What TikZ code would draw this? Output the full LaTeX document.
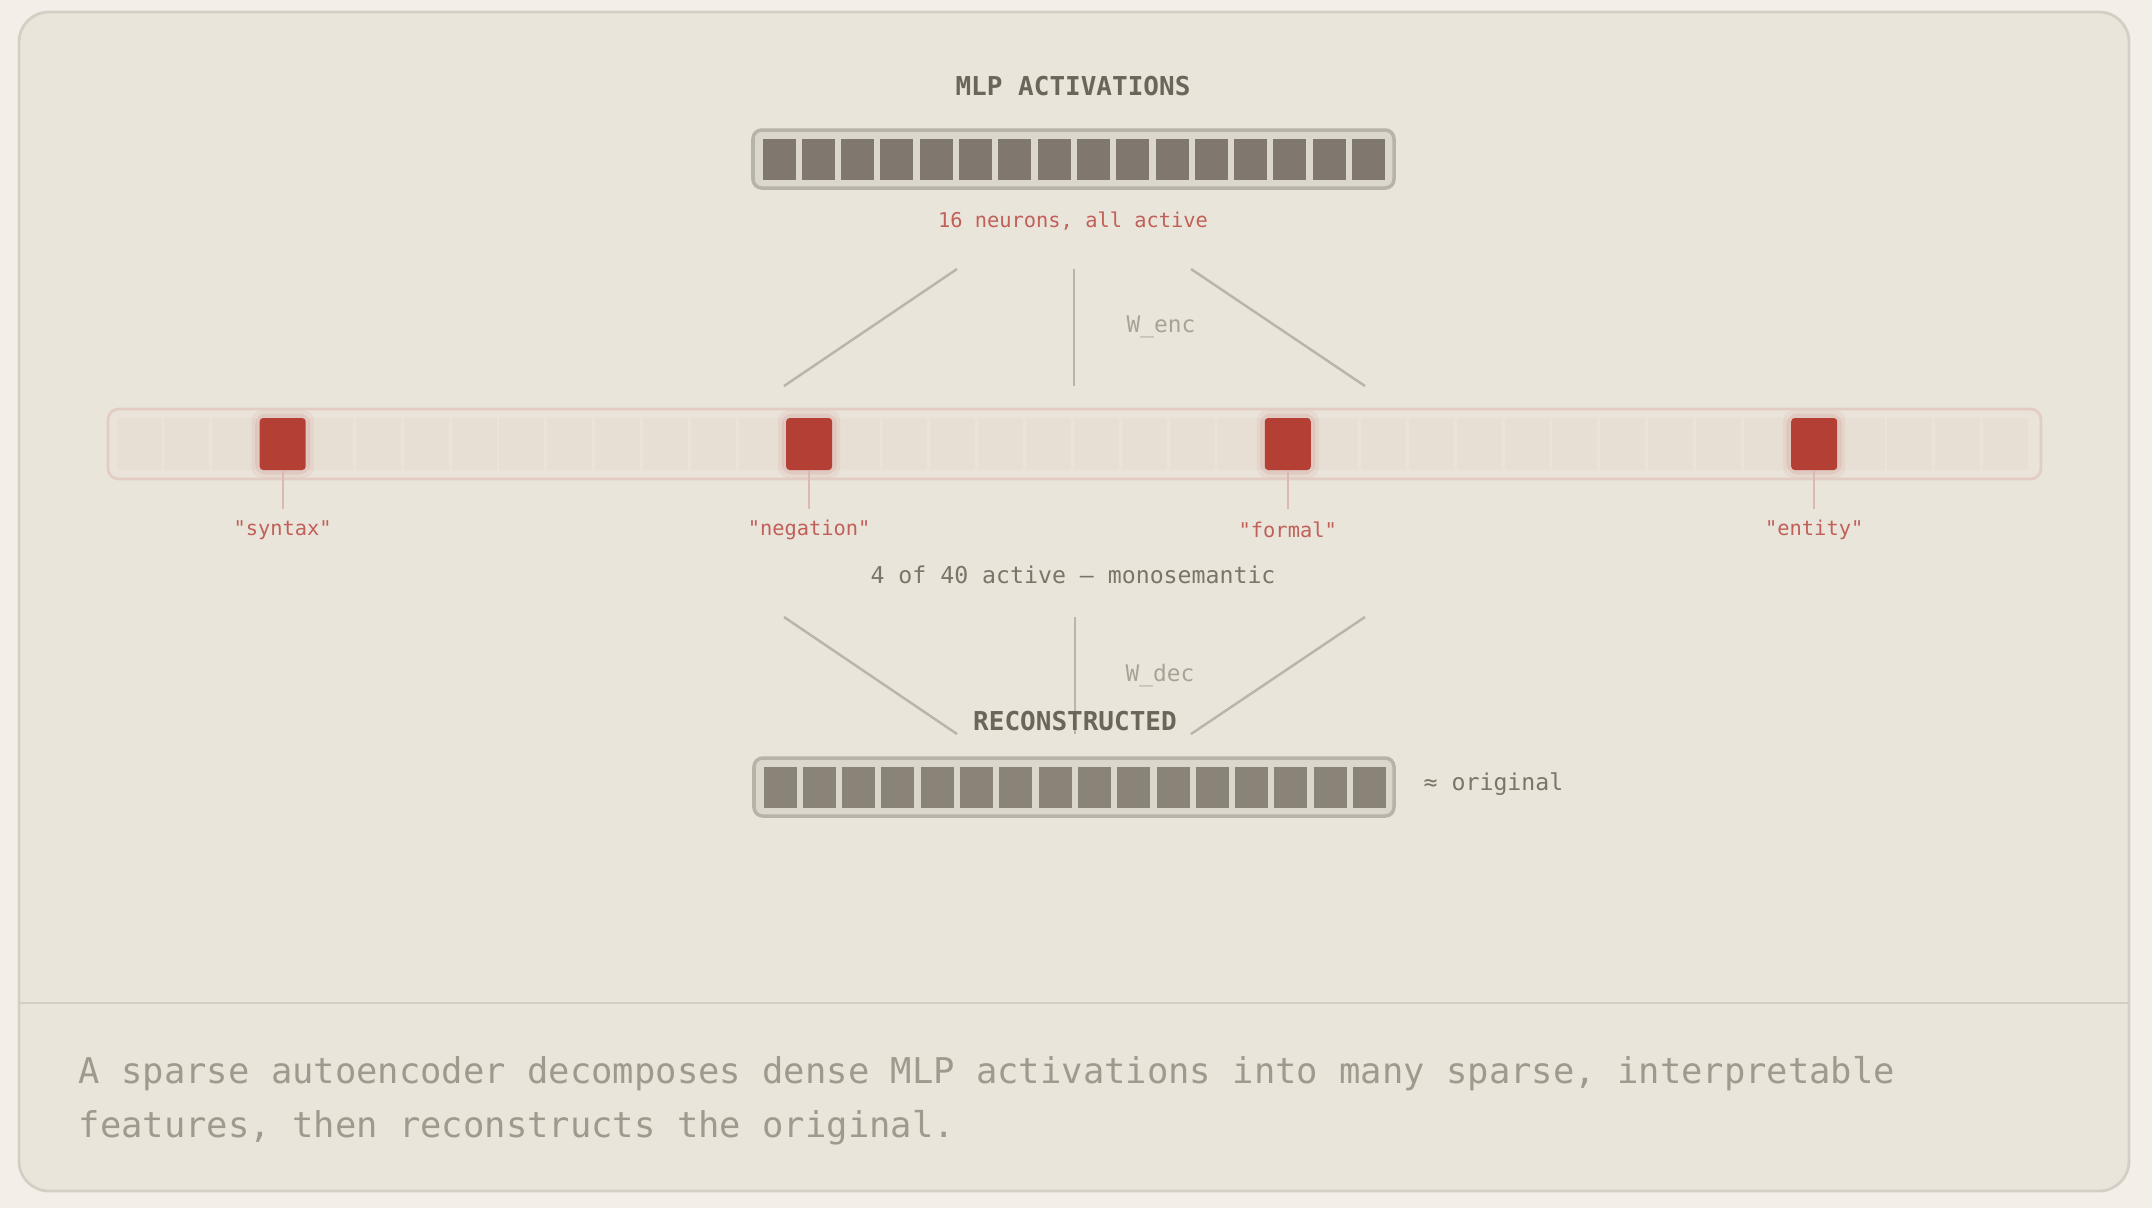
\documentclass[tikz,border=0pt]{standalone}
\usepackage{fontspec}
\setmonofont{DejaVu Sans Mono}
\renewcommand{\familydefault}{\ttdefault}
\usetikzlibrary{calc}
\definecolor{PageBg}{RGB}{243,239,232}
\definecolor{PanelBg}{RGB}{233,229,219}
\definecolor{PanelLine}{RGB}{212,207,196}
\definecolor{InkDark}{RGB}{107,101,90}
\definecolor{BarFill}{RGB}{220,215,204}
\definecolor{BarLine}{RGB}{184,179,168}
\definecolor{NeuronA}{RGB}{128,120,111}
\definecolor{NeuronB}{RGB}{138,131,120}
\definecolor{SoftRed}{RGB}{192,96,88}
\definecolor{FeatRed}{RGB}{180,63,53}
\definecolor{FeatBg}{RGB}{234,227,218}
\definecolor{FeatCell}{RGB}{231,222,212}
\definecolor{FeatLine}{RGB}{227,205,194}
\definecolor{TickRed}{RGB}{221,184,176}
\definecolor{Wire}{RGB}{186,181,170}
\definecolor{WireText}{RGB}{169,163,151}
\definecolor{MidText}{RGB}{123,116,104}
\definecolor{CapText}{RGB}{160,154,142}

\begin{document}
\begin{tikzpicture}[y=-1cm,
  wire/.style={Wire,line width=.7pt},
  head/.style={InkDark,font=\bfseries\fontsize{7.4}{9}\selectfont},
  small/.style={font=\fontsize{5.8}{7}\selectfont},
  featcell/.style={fill=FeatRed,minimum width=.46cm,minimum height=.52cm,inner sep=0pt,rounded corners=1pt},
  glowbox/.style={fill=FeatRed,inner sep=0pt,rounded corners=3pt}]
  \useasboundingbox (0,0) rectangle (21.52,12.08);
  \fill[PageBg] (0,0) rectangle (21.52,12.08);
  \draw[PanelLine,fill=PanelBg,line width=.8pt,rounded corners=8.5pt] (.19,.12) rectangle (21.29,11.91);
  \draw[PanelLine,line width=.6pt] (.2,10.03) -- (21.28,10.03);
  \node[head] (mlp) at (10.73,.865){MLP ACTIVATIONS};
  \draw[BarLine,fill=BarFill,line width=1pt,rounded corners=2.5pt] (7.53,1.30) rectangle (13.94,1.88);
  \foreach \i in {0,...,15}{\fill[NeuronA] ({7.625+.393*\i},1.385) rectangle ++(.33,.41);}
  \node[small,SoftRed] (dense) at (10.73,2.21){16 neurons, all active};
  \foreach \u/\v [count=\k] in {9.57/7.84,10.74/10.74,11.91/13.65}{
    \coordinate (enc\k a) at (\u,2.69);
    \coordinate (enc\k b) at (\v,3.86);
    \draw[wire] (enc\k a) -- (enc\k b);}
  \node[WireText,font=\fontsize{6.5}{8}\selectfont] (wenc) at (11.61,3.27){W\_enc};
  \draw[FeatLine,fill=FeatBg,line width=.8pt,rounded corners=3pt] (1.08,4.09) rectangle (20.41,4.79);
  \foreach \i in {0,...,39}{\fill[FeatCell] ({1.166+.4786*\i},4.18) rectangle ++(.45,.52);}
  \foreach \i/\t in {3/syntax,14/negation,24/formal,35/entity}{
    \node[glowbox,opacity=.06,minimum width=.62cm,minimum height=.68cm] at ({1.391+.4786*\i},4.44){};
    \node[glowbox,opacity=.10,minimum width=.55cm,minimum height=.61cm] at ({1.391+.4786*\i},4.44){};
    \node[featcell] (c\i) at ({1.391+.4786*\i},4.44){};
    \node[small,SoftRed] (f\i) at ({1.391+.4786*\i},5.30){"\t"};
    \draw[TickRed,line width=.6pt] (c\i.south) -- ++(0,.38);}
  \node[MidText,font=\fontsize{6.6}{8}\selectfont] (mono) at (10.73,5.75){4 of 40 active — monosemantic};
  \foreach \u/\v [count=\k] in {7.84/9.57,10.75/10.75,13.65/11.91}{
    \coordinate (dec\k a) at (\u,6.17);
    \coordinate (dec\k b) at (\v,7.34);
    \draw[wire] (dec\k a) -- (dec\k b);}
  \node[WireText,font=\fontsize{6.5}{8}\selectfont] (wdec) at (11.60,6.75){W\_dec};
  \node[head] (recon) at (10.75,7.21){RECONSTRUCTED};
  \draw[BarLine,fill=BarFill,line width=1pt,rounded corners=2.5pt] (7.54,7.58) rectangle (13.94,8.16);
  \foreach \i in {0,...,15}{\fill[NeuronB] ({7.635+.393*\i},7.665) rectangle ++(.33,.41);}
  \node[MidText,font=\fontsize{6.6}{8}\selectfont,anchor=west,inner sep=0pt] (approx) at (14.23,7.84){≈ original};
  \node[CapText,font=\fontsize{10.1}{15.4}\selectfont,anchor=base west,inner sep=0pt] (cap1) at (.78,10.83){A sparse autoencoder decomposes dense MLP activations into many sparse, interpretable};
  \node[CapText,font=\fontsize{10.1}{15.4}\selectfont,anchor=base west,inner sep=0pt] (cap2) at (.78,11.37){features, then reconstructs the original.};
\end{tikzpicture}
\end{document}
